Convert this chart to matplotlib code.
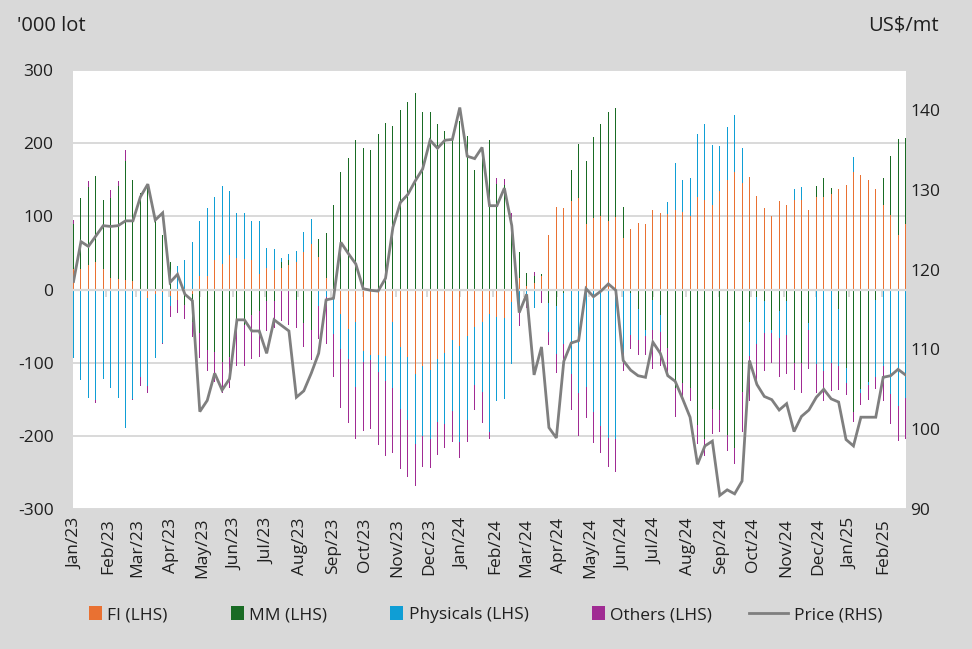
import datetime as dt
import numpy as np
import matplotlib
matplotlib.use("Agg")
import matplotlib.pyplot as plt
import matplotlib.dates as mdates
import matplotlib.transforms as mtransforms
from matplotlib.patches import Patch, Rectangle
from matplotlib.lines import Line2D
from matplotlib.legend_handler import HandlerPatch

# ---------------- data ----------------
START = dt.date(2023, 1, 1)
N_WEEKS = 113
dates = [START + dt.timedelta(days=7 * i) for i in range(N_WEEKS)]

FI = [28, 28, 34, 37, 28, 16, 15, 13, 12, 0, -12, -6, -3, -9, -15, 0,
      -6, 18, 18, 41, 35, 47, 43, 42, 40, 21, 29, 26, 30, 34, 37, 51,
      62, 45, 16, -5, -33, -54, -44, -84, -89, -89, -91, -45, -78, -92, -115, -105,
      -110, -95, -87, -69, -77, -63, -51, -44, -34, -38, -39, -17, 16, 5, 9, 18,
      75, 113, 111, 121, 125, 90, 98, 101, 94, 99, 71, 83, 91, 90, 108,
      104, 103, 109, 106, 100, 127, 123, 116, 134, 149, 160, 145, 154, 128, 111, 101,
      121, 116, 122, 122, 109, 127, 126, 131, 137, 143, 160, 157, 150, 137, 116, 102, 75, 89]

MM = [61, 97, 106, 118, 95, 109, 127, 162, 137, 132, 140, 93, 74, 38, 0, -21,
      -39, -60, -83, -85, -99, -92, -48, -48, -35, -29, -16, -16, 8, 7, -15, -46,
      -56, 24, 61, 115, 161, 180, 204, 193, 190, 212, 227, 223, 245, 256, 268, 243,
      243, 226, 216, 205, 230, 210, 164, 182, 205, 144, 143, 94, 35, 17, 10, 3,
      -18, -23, -5, 43, 74, 86, 111, 125, 148, 149, 42, -5, -26, -55, -15,
      -35, -80, -134, -128, -135, -185, -204, -163, -165, -199, -216, -140, -45, -10, -16, -56,
      -29, -16, -100, -100, -46, 14, 26, 8, -27, -107, -167, -136, -127, -15, 36, 81, 131, 118]

PHYSICALS = [-94, -124, -148, -151, -123, -135, -148, -189, -149, -120, -120, -87, -70, -14, 32, 41,
             65, 75, 94, 86, 106, 88, 62, 62, 54, 72, 28, 29, 5, 7, 16, 28,
             35, -23, -10, -56, -49, -41, -89, -15, -7, -24, -34, -90, -85, -87, -96, -95,
             -94, -86, -97, -97, -132, -116, -80, -96, -161, -115, -111, -85, -30, -10, -25, 0,
             -40, -65, -69, -115, -141, -133, -168, -186, -203, -205, -87, -57, -43, -8, -41,
             -23, 17, 64, 43, 53, 85, 103, 81, 62, 73, 78, 49, -46, -65, -44, -4,
             -37, -46, 16, 18, -10, -102, -111, -100, -78, -21, 21, -5, -3, -104, -105, -143, -159, -148]

OTHERS = [6, 0, 8, -4, 0, 11, 6, 15, -2, -12, -9, 2, -1, -15, -17, -19,
          -20, -33, -28, -42, -42, -42, -57, -56, -60, -63, -41, -36, -43, -48, -37, -32,
          -40, -44, -65, -59, -80, -87, -72, -95, -95, -99, -103, -88, -82, -77, -58, -42,
          -40, -45, -32, -42, -21, -30, -34, -42, -10, 8, 8, 10, -20, -15, 5, -19,
          -18, -26, -37, -50, -59, -42, -42, -38, -40, -44, -25, -20, -21, -26, -53,
          -47, -40, -40, -20, -18, -26, -23, -35, -30, -22, -23, -55, -61, -55, -51, -40,
          -54, -54, -38, -41, -53, -39, -41, -39, -32, -16, -14, -17, -21, -17, -47, -41, -48, -57]

PRICE = [118.5, 123.5, 122.9, 124.2, 125.5, 125.4, 125.5, 126.1, 126.1, 129.1, 130.7, 126.2, 127.1, 118.4, 119.4, 116.9,
         116.1, 102.2, 103.6, 107.0, 104.9, 106.3, 113.7, 113.7, 112.3, 112.3, 109.5, 113.7, 113.0, 112.3, 104.0, 104.8,
         107.0, 109.5, 116.2, 116.4, 123.4, 122.0, 120.7, 117.6, 117.4, 117.3, 118.9, 125.3, 128.4, 129.4, 131.1, 132.6,
         136.2, 135.2, 136.2, 136.3, 140.3, 134.2, 133.9, 135.3, 128.0, 128.0, 130.2, 125.5, 114.6, 116.9, 106.8, 110.3,
         100.2, 98.9, 108.5, 110.8, 111.1, 117.6, 116.6, 117.3, 118.2, 117.4, 108.6, 107.4, 106.7, 106.5, 110.9,
         109.5, 106.7, 106.0, 103.8, 101.5, 95.6, 97.9, 98.5, 91.7, 92.4, 91.9, 93.5, 108.6, 105.6, 104.1, 103.7,
         102.4, 103.2, 99.7, 101.6, 102.4, 104.0, 105.0, 103.8, 103.4, 98.7, 97.9, 101.5, 101.5, 101.5, 106.5, 106.7, 107.5, 106.8]

SERIES_NAMES = ["FI (LHS)", "MM (LHS)", "Physicals (LHS)", "Others (LHS)"]
PRICE_NAME = "Price (RHS)"

MONTH_LABELS = ["Jan/23", "Feb/23", "Mar/23", "Apr/23", "May/23", "Jun/23", "Jul/23", "Aug/23",
                "Sep/23", "Oct/23", "Nov/23", "Dec/23", "Jan/24", "Feb/24", "Mar/24", "Apr/24",
                "May/24", "Jun/24", "Jul/24", "Aug/24", "Sep/24", "Oct/24", "Nov/24", "Dec/24",
                "Jan/25", "Feb/25"]
LEFT_TICKS = [-300, -200, -100, 0, 100, 200, 300]
RIGHT_TICKS = [90, 100, 110, 120, 130, 140]

# ---------------- style ----------------
COLORS = ["#E97132", "#196B24", "#0F9ED5", "#A02B93"]
PRICE_COLOR = "#7F7F7F"
BG = "#D9D9D9"
GRID = "#D9D9D9"
TXT = "#1F1F1F"
FONT = ["Open Sans", "DejaVu Sans"]
FS = 12.5

plt.rcParams["font.family"] = FONT

W, H = 972, 649
fig = plt.figure(figsize=(W / 100, H / 100), dpi=100, facecolor=BG)
L, R, T, B = 73, 906, 70, 509
ax = fig.add_axes([L / W, 1 - B / H, (R - L) / W, (B - T) / H])
ax.set_facecolor("white")

x = mdates.date2num(dates) + 0.5
pos_bottom = np.zeros(N_WEEKS)
neg_bottom = np.zeros(N_WEEKS)
for vals, col in zip([FI, MM, PHYSICALS, OTHERS], COLORS):
    v = np.asarray(vals, dtype=float)
    pos = np.where(v > 0, v, 0.0)
    neg = np.where(v < 0, v, 0.0)
    ax.bar(x, pos, width=1.0, bottom=pos_bottom, color=col, linewidth=0,
           antialiased=False, zorder=1)
    ax.bar(x, neg, width=1.0, bottom=neg_bottom, color=col, linewidth=0,
           antialiased=False, zorder=1)
    pos_bottom += pos
    neg_bottom += neg

ax.set_ylim(-300, 300)
ax.set_yticks(LEFT_TICKS)
ax.set_yticklabels([str(t) for t in LEFT_TICKS])
ax.yaxis.grid(True, color=GRID, linewidth=1.4, zorder=0)
ax.set_axisbelow(True)
ax.tick_params(axis="y", length=0, pad=14, labelsize=FS, labelcolor=TXT)

x0 = mdates.date2num(dates[0])
x1 = mdates.date2num(dates[-1]) + 1
ax.set_xlim(x0, x1)

month_starts = []
y, m = 2023, 1
for _ in MONTH_LABELS:
    month_starts.append(mdates.date2num(dt.date(y, m, 1)))
    m += 1
    if m > 12:
        m, y = 1, y + 1

for s in ["top", "left", "right"]:
    ax.spines[s].set_visible(False)
ax.spines["bottom"].set_position(("data", 0))
ax.spines["bottom"].set_color(GRID)
ax.spines["bottom"].set_linewidth(1.6)
ax.set_xticks(month_starts)
ax.tick_params(axis="x", direction="out", length=5, width=1.4, color=GRID,
               labelbottom=False)

trans = mtransforms.blended_transform_factory(ax.transData, ax.transAxes) + \
    mtransforms.ScaledTranslation(2 / 100, 0, fig.dpi_scale_trans)
for ms, lab in zip(month_starts, MONTH_LABELS):
    ax.text(ms, -0.02, lab, rotation=90, ha="center", va="top", transform=trans,
            fontsize=FS, color=TXT)

ax2 = ax.twinx()
ax2.plot(x, PRICE, color=PRICE_COLOR, linewidth=2.0, zorder=3, solid_joinstyle="miter")
ax2.set_ylim(90, 145)
ax2.set_yticks(RIGHT_TICKS)
ax2.set_yticklabels([str(t) for t in RIGHT_TICKS])
ax2.tick_params(axis="y", length=0, pad=3, labelsize=FS, labelcolor=TXT)
for s in ax2.spines.values():
    s.set_visible(False)

fig.text(17 / W, 1 - 31 / H, "'000 lot", fontsize=14.5, color=TXT, ha="left", va="baseline")
fig.text(868 / W, 1 - 31 / H, "US$/mt", fontsize=14.5, color=TXT, ha="left", va="baseline")


class SquareHandler(HandlerPatch):
    def create_artists(self, legend, orig_handle, xdescent, ydescent, width, height,
                       fontsize, trans):
        s = 0.75 * fontsize
        p = Rectangle((width - xdescent - s, -ydescent + (height - s) / 2), s, s,
                      facecolor=orig_handle.get_facecolor(), edgecolor="none",
                      transform=trans)
        return [p]


handles = [Patch(facecolor=c) for c in COLORS]
handles.append(Line2D([0], [0], color=PRICE_COLOR, linewidth=2.0))
labels = SERIES_NAMES + [PRICE_NAME]
leg = fig.legend(handles, labels, loc="center", bbox_to_anchor=(0.5 - 14 / W, 1 - 615 / H),
                 ncol=5, frameon=False, fontsize=FS, handlelength=2.3,
                 handletextpad=0.3, columnspacing=2.1, labelcolor=TXT,
                 handler_map={Patch: SquareHandler()})

fig.savefig("out.png", dpi=100, facecolor=BG)
